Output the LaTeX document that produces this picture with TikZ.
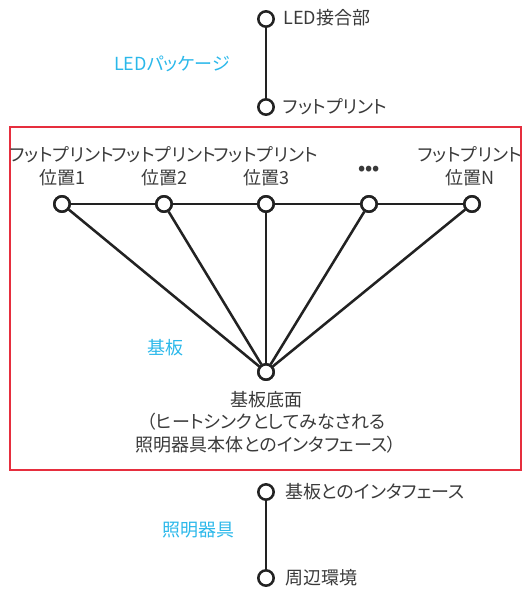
\documentclass[tikz,border=0pt]{standalone}
\usepackage{fontspec}
\setmainfont{Noto Sans CJK JP}[RawFeature=+palt]
\newfontfamily\jp{Noto Sans CJK JP}[RawFeature=+palt]
\definecolor{txt}{HTML}{3A3A3A}
\definecolor{ln}{HTML}{222222}
\definecolor{cy}{HTML}{2BB8EA}
\definecolor{rd}{HTML}{E62E3E}
\tikzset{
  pt/.style={circle, draw=ln, fill=white, line width=1.9pt, minimum size=11.5pt, inner sep=0pt},
  conn/.style={draw=ln, line width=1.9pt},
  lbl/.style={text=txt, font=\jp\fontsize{13.5pt}{17pt}\selectfont, inner sep=0pt},
  cyl/.style={text=cy, font=\jp\fontsize{13.5pt}{17pt}\selectfont, inner sep=0pt},
}
\begin{document}
\begin{tikzpicture}[x=0.75pt, y=-0.75pt]
\useasboundingbox (0,0) rectangle (523,589);
\draw[rd, line width=1.5pt] (10,127) rectangle (521,470);
% top chain
\node[pt] (led) at (266,19) {};
\node[pt] (fp) at (266,107) {};
\draw[conn] (led) -- (fp);
\node[lbl, anchor=west] (tledl) at (283,18) {LED接合部};
\node[lbl, anchor=west] (tfpl) at (283,107) {フットプリント};
\node[cyl] (pkg) at (172,64) {LEDパッケージ};
% footprint row
\node[pt] (p1) at (62,204) {};
\node[pt] (p2) at (164,204) {};
\node[pt] (p3) at (266,204) {};
\node[pt] (p4) at (369,204) {};
\node[pt] (p5) at (472,204) {};
\node[pt] (base) at (266,372) {};
\draw[conn] (p1) -- (p2) -- (p3) -- (p4) -- (p5);
\foreach \p in {p1,p2,p3,p4,p5} \draw[conn] (\p) -- (base);
\node[pt] (p1) at (62,204) {};
\node[pt] (p2) at (164,204) {};
\node[pt] (p3) at (266,204) {};
\node[pt] (p4) at (369,204) {};
\node[pt] (p5) at (472,204) {};
\node[pt] (base) at (266,372) {};
\node[lbl, align=center] (l1) at (62,166) {フットプリント\\位置1};
\node[lbl, align=center] (l2) at (164,166) {フットプリント\\位置2};
\node[lbl, align=center] (l3) at (266,166) {フットプリント\\位置3};
\node[lbl] (dots) at (369,170) {\textbf{•••}};
\node[lbl, align=center] (l5) at (470,166) {フットプリント\\位置N};
\node[cyl] (kiban) at (165,348) {基板};
\node[lbl, align=center] (bl) at (266,422) {基板底面\\（ヒートシンクとしてみなされる\\照明器具本体とのインタフェース）};
% bottom chain
\node[pt] (if) at (266,492) {};
\node[pt] (env) at (266,578) {};
\draw[conn] (if) -- (env);
\node[lbl, anchor=west] (ifl) at (285,492) {基板とのインタフェース};
\node[lbl, anchor=west] (envl) at (285,578) {周辺環境};
\node[cyl] (fix) at (198,530) {照明器具};
\end{tikzpicture}
\end{document}
